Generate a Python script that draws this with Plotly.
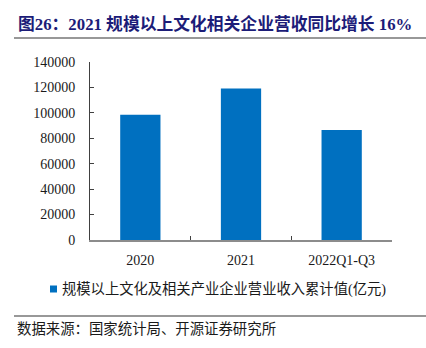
import plotly.graph_objects as go

categories = ["2020", "2021", "2022Q1-Q3"]
values = [98514, 119064, 86500]
y_ticks = [0, 20000, 40000, 60000, 80000, 100000, 120000, 140000]

title_text = "图26：2021 规模以上文化相关企业营收同比增长 16%"
legend_text = "规模以上文化及相关产业企业营业收入累计值(亿元)"
source_text = "数据来源：国家统计局、开源证券研究所"

W, H = 426, 348
L, R, T, B = 90, 34, 62, 108
pw, ph = W - L - R, H - T - B

def px(x):
    return (x - L) / pw

def py(y):
    return (H - B - y) / ph

serif = "Liberation Serif, Times New Roman, Noto Serif CJK SC, Noto Sans CJK SC, serif"
cjk = "Liberation Serif, Noto Sans CJK SC, serif"
bar_color = "#0070C0"

fig = go.Figure()
fig.add_trace(go.Bar(x=categories, y=values, marker=dict(color=bar_color, line=dict(width=0)),
                     name=legend_text, showlegend=False))

fig.update_layout(
    width=W, height=H,
    margin=dict(l=L, r=R, t=T, b=B),
    paper_bgcolor="white", plot_bgcolor="white",
    bargap=0.6,
    xaxis=dict(showline=True, linecolor="#8c8c8c", linewidth=2, ticks="inside",
               tickson="boundaries", ticklen=4, tickcolor="#404040",
               ticklabelstandoff=6,
               tickfont=dict(family=serif, size=14, color="#1a1a1a"), showgrid=False),
    yaxis=dict(range=[0, 140000], tickvals=y_ticks, ticktext=[str(v) for v in y_ticks],
               showline=True, linecolor="#404040", linewidth=1, ticks="inside", ticklen=4,
               tickcolor="#404040", showgrid=False, zeroline=False,
               ticklabelstandoff=11,
               tickfont=dict(family=serif, size=14, color="#1a1a1a")),
    font=dict(family=serif),
)

annotations = [
    dict(text="<b>" + title_text + "</b>", x=px(16), y=py(24), xref="paper", yref="paper",
         xanchor="left", yanchor="middle", showarrow=False,
         font=dict(family=cjk, size=16.8, color="#1c1c78")),
    dict(text=legend_text, x=px(60), y=py(289), xref="paper", yref="paper",
         xanchor="left", yanchor="middle", showarrow=False,
         font=dict(family=cjk, size=14.3, color="#1a1a1a")),
    dict(text=source_text, x=px(15), y=py(329), xref="paper", yref="paper",
         xanchor="left", yanchor="middle", showarrow=False,
         font=dict(family=cjk, size=14.4, color="#1a1a1a")),
]
fig.update_layout(annotations=annotations)

shapes = [
    dict(type="line", xref="paper", yref="paper", x0=px(14), x1=px(426), y0=py(38), y1=py(38),
         line=dict(color="#333333", width=1.2)),
    dict(type="line", xref="paper", yref="paper", x0=px(14), x1=px(426), y0=py(316), y1=py(316),
         line=dict(color="#333333", width=1.2)),
    dict(type="rect", xref="paper", yref="paper", x0=px(50), x1=px(57), y0=py(292.5), y1=py(285.5),
         fillcolor=bar_color, line=dict(width=0)),
]
fig.update_layout(shapes=shapes)

fig.write_html("out.html")
